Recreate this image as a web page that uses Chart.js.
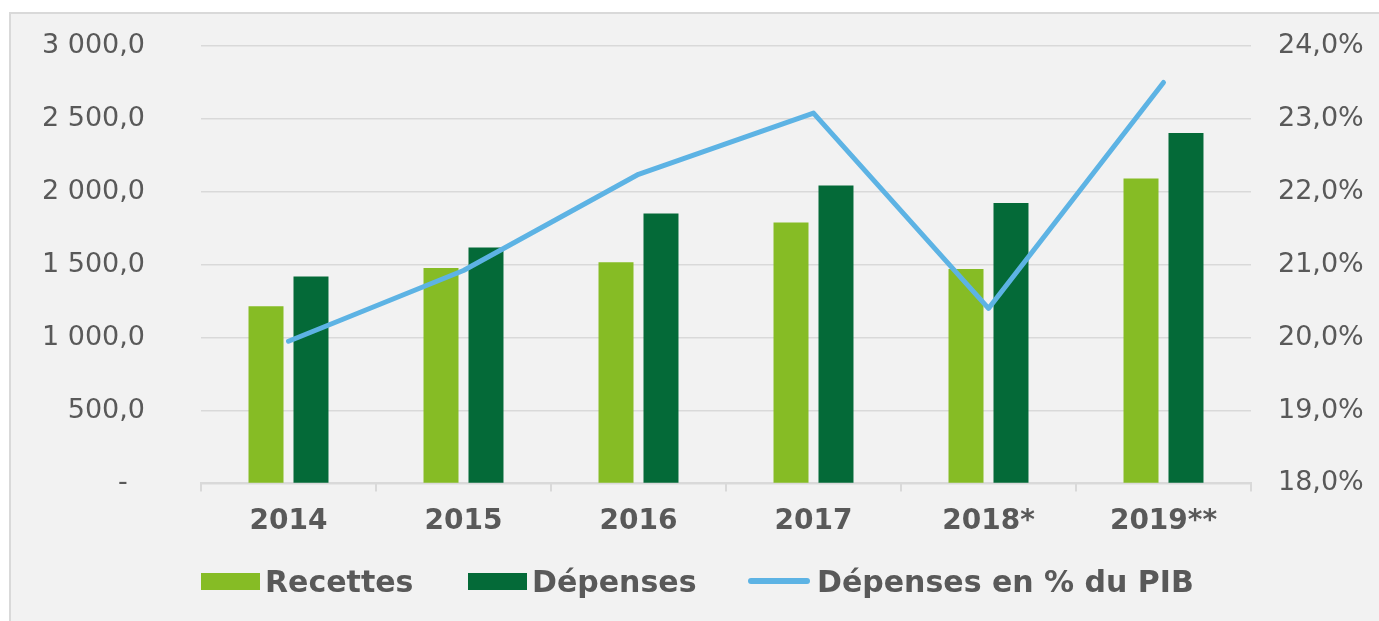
<!DOCTYPE html>
<html>
<head>
<meta charset="utf-8">
<script src="https://cdn.jsdelivr.net/npm/chart.js@4.4.1/dist/chart.umd.min.js"></script>
<style>
    html, body { margin: 0; padding: 0; background: #fff; }
    body { width: 1379px; height: 621px; position: relative; overflow: hidden; font-family: 'DejaVu Sans', Verdana, sans-serif; }
    .frame { position: absolute; left: 9px; top: 12px; width: 1400px; height: 640px; background: #f2f2f2; border: 2px solid #d9d9d9; }
    #chart { position: absolute; left: 0; top: 0; }
    .legend-item { position: absolute; top: 562px; height: 38px; display: flex; align-items: center; font-weight: bold; font-size: 30px; color: #595959; }
    .swatch { width: 59px; height: 17px; margin-right: 5px; }
    .swatch-line { width: 62px; height: 6px; border-radius: 3px; margin-right: 7px; }
</style>
</head>
<body>
<div class="frame"></div>
<canvas id="chart" width="1379" height="621"></canvas>
<div class="legend-item" style="left:201px"><span class="swatch" style="background:#86bc25"></span>Recettes</div>
<div class="legend-item" style="left:468px"><span class="swatch" style="background:#046a38"></span>Dépenses</div>
<div class="legend-item" style="left:748px"><span class="swatch-line" style="background:#5db3e4"></span>Dépenses en % du PIB</div>
<script>
const years = ['2014', '2015', '2016', '2017', '2018*', '2019**'];
const recettes = [1215, 1478, 1517, 1790, 1471, 2092];
const depenses = [1419, 1618, 1851, 2044, 1924, 2403];
const depensesPctPib = [19.95, 20.92, 22.24, 23.08, 20.40, 23.50];

const textColor = '#595959';
const gridColor = '#d9d9d9';

function formatAmount(value) {
    if (value === 0) return '-  ';
    const parts = value.toFixed(1).split('.');
    const intPart = parts[0].replace(/\B(?=(\d{3})+(?!\d))/g, ' ');
    return intPart + ',' + parts[1];
}

function formatPct(value) {
    return value.toFixed(1).replace('.', ',') + '%';
}

// fixed axis width, and drop the tick padding from the vertical overflow
function fixAxis(width) {
    return scale => {
        scale.width = width;
        scale.paddingTop = 16;
        scale.paddingBottom = 16;
    };
}

const ctx = document.getElementById('chart').getContext('2d');
new Chart(ctx, {
    type: 'bar',
    data: {
        labels: years,
        datasets: [
            {
                type: 'line',
                label: 'Dépenses en % du PIB',
                data: depensesPctPib,
                yAxisID: 'y1',
                borderColor: '#5db3e4',
                backgroundColor: '#5db3e4',
                borderWidth: 5,
                borderCapStyle: 'round',
                borderJoinStyle: 'round',
                pointRadius: 0,
                tension: 0,
                order: 0
            },
            {
                label: 'Recettes',
                data: recettes,
                yAxisID: 'y',
                backgroundColor: '#86bc25',
                order: 1
            },
            {
                label: 'Dépenses',
                data: depenses,
                yAxisID: 'y',
                backgroundColor: '#046a38',
                order: 1
            }
        ]
    },
    options: {
        responsive: false,
        animation: false,
        devicePixelRatio: 1,
        layout: { padding: { top: 46, bottom: 68, left: 0, right: 0 } },
        datasets: {
            bar: { categoryPercentage: 0.514, barPercentage: 0.778 }
        },
        plugins: {
            legend: { display: false },
            tooltip: { enabled: false }
        },
        scales: {
            x: {
                grid: {
                    drawOnChartArea: false,
                    drawTicks: true,
                    tickLength: 8,
                    color: gridColor,
                    lineWidth: 2
                },
                border: { display: true, color: gridColor, width: 2 },
                ticks: {
                    color: textColor,
                    padding: 14,
                    font: { family: 'DejaVu Sans', size: 28, weight: 'bold' }
                }
            },
            y: {
                position: 'left',
                min: 0,
                max: 3000,
                grid: { color: gridColor, lineWidth: 1.5, drawTicks: false },
                border: { display: false },
                ticks: {
                    stepSize: 500,
                    padding: 56,
                    color: textColor,
                    font: { family: 'DejaVu Sans', size: 27 },
                    callback: value => formatAmount(value)
                },
                afterFit: fixAxis(201)
            },
            y1: {
                position: 'right',
                min: 18,
                max: 24,
                grid: { display: false, drawTicks: false },
                border: { display: false },
                ticks: {
                    stepSize: 1,
                    padding: 27,
                    color: textColor,
                    font: { family: 'DejaVu Sans', size: 27 },
                    callback: value => formatPct(value)
                },
                afterFit: fixAxis(128)
            }
        }
    }
});
</script>
</body>
</html>
